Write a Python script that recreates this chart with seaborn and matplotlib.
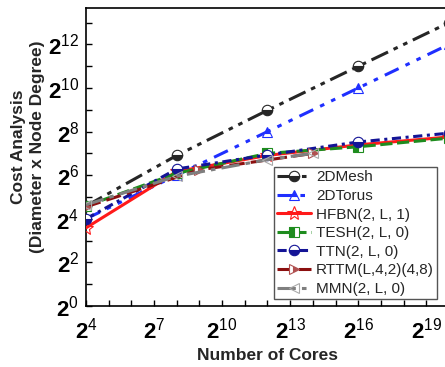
import numpy as np
import pandas as pd
import matplotlib
matplotlib.use("Agg")
import matplotlib.pyplot as plt
from matplotlib.ticker import FixedLocator, FuncFormatter, NullFormatter
import seaborn as sns

# ---- data (x = number of cores, y = diameter x node degree) ----
x_main = [16, 256, 4096, 65536, 1048576]
mesh = [24, 120, 504, 2040, 8184]
torus = [16, 64, 256, 1024, 4096]
hfbn = [12, 72, 120, 168, 216]
tesh = [24, 68, 128, 158, 208]
ttn = [16, 78, 122, 184, 244]
x_rttm = [16, 512, 16384]
rttm = [23.4, 76, 128]
x_mmn = [16, 256, 4096, 16384]
mmn = [25, 62, 105, 128]

labels = ["2DMesh", "2DTorus", "HFBN(2, L, 1)", "TESH(2, L, 0)",
          "TTN(2, L, 0)", "RTTM(L,4,2)(4,8)", "MMN(2, L, 0)"]

sns.set_theme(style="ticks")
plt.rcParams["font.family"] = ["Liberation Sans", "DejaVu Sans"]
plt.rcParams["mathtext.fontset"] = "custom"
plt.rcParams["mathtext.rm"] = "Liberation Sans"
plt.rcParams["mathtext.bf"] = "Liberation Sans:bold"
plt.rcParams["mathtext.it"] = "Liberation Sans:italic"

fig = plt.figure(figsize=(4.45, 3.67), dpi=100)
ax = fig.add_axes([86/445, 1-306/367, (449-86)/445, 298/367])

series = [
    (x_main, mesh, labels[0], "#262626", "o", "bottom", "#262626", (0, (6, 2, 1.5, 2, 1.5, 2)), 1),
    (x_main, torus, labels[1], "#1f2fff", "^", "top", "#1f2fff", (0, (5, 2.5, 1.5, 2.5, 1.5, 2.5)), 2),
    (x_main, hfbn, labels[2], "#ff1a1a", "*", "none", "#ff1a1a", "-", 3),
    (x_main, tesh, labels[3], "#1e8c1e", "s", "left", "#1e8c1e", (0, (4, 1.5)), 4),
    (x_main, ttn, labels[4], "#141496", "o", "bottom", "#141496", (0, (3, 1.5, 1, 1.5)), 5),
    (x_rttm, rttm, labels[5], "#8b0f0f", ">", "right", "#b05050", (0, (5, 2)), 6),
    (x_mmn, mmn, labels[6], "#7f7f7f", "<", "none", "#aaaaaa", (0, (6, 2, 1.5, 2)), 7),
]

handles = []
for xs, ys, lab, col, mk, fs, mcol, ls, z in series:
    df = pd.DataFrame({"x": xs, "y": ys})
    sns.lineplot(data=df, x="x", y="y", ax=ax, color=col, linestyle=ls,
                 linewidth=2.2, marker=mk, markersize=7.5 if mk != "*" else 10,
                 fillstyle=fs, markerfacecolor=mcol, markerfacecoloralt="white",
                 markeredgecolor=mcol, markeredgewidth=0.8, label=lab,
                 zorder=z, legend=False)
    handles.append(ax.get_lines()[-1])

ax.set_xscale("log", base=2)
ax.set_yscale("log", base=2)
ax.set_xlim(2**4, 2**20)
ax.set_ylim(2**0, 2**13.67)

ax.xaxis.set_major_locator(FixedLocator([2.0**k for k in range(4, 21, 3)]))
ax.xaxis.set_minor_locator(FixedLocator([2.0**k for k in range(4, 21)]))
ax.yaxis.set_major_locator(FixedLocator([2.0**k for k in range(0, 14, 2)]))
ax.yaxis.set_minor_locator(FixedLocator([2.0**k for k in range(1, 14, 2)]))
ax.xaxis.set_minor_formatter(NullFormatter())
ax.yaxis.set_minor_formatter(NullFormatter())

def fmt(v, pos):
    k = int(round(np.log2(v)))
    return r"$\mathbf{2}^{\mathrm{%d}}$" % k

ax.xaxis.set_major_formatter(FuncFormatter(fmt))
ax.yaxis.set_major_formatter(FuncFormatter(fmt))

ax.tick_params(axis="both", which="both", direction="in", length=4, width=1.0,
               labelsize=16, colors="black")
ax.tick_params(axis="x", which="both", pad=8, top=False)
ax.tick_params(axis="y", which="both", pad=5, right=False)

for s in ["left", "bottom", "top"]:
    ax.spines[s].set_linewidth(1.2)
    ax.spines[s].set_color("black")
ax.spines["right"].set_visible(False)

ax.set_xlabel("Number of Cores", fontsize=12.5, fontweight="bold")
ax.set_ylabel("Cost Analysis\n(Diameter x Node Degree)", fontsize=12.5,
              fontweight="bold", linespacing=1.35)
ax.xaxis.set_label_coords(0.5, -0.14)
ax.yaxis.set_label_coords(-0.16, 0.535)
ax.xaxis.label.set_va("top")
ax.yaxis.label.set_va("center")

leg = ax.legend(handles=handles, labels=labels, loc="lower right",
                bbox_to_anchor=((437-86)/363, (306-299)/298),
                fontsize=11, frameon=True, fancybox=False, edgecolor="#555555",
                framealpha=1, handlelength=2.2, handletextpad=0.35,
                labelspacing=0.3, borderpad=0.2, borderaxespad=0)
leg.get_frame().set_linewidth(1.0)

fig.savefig("out.png", dpi=100, facecolor="white")
